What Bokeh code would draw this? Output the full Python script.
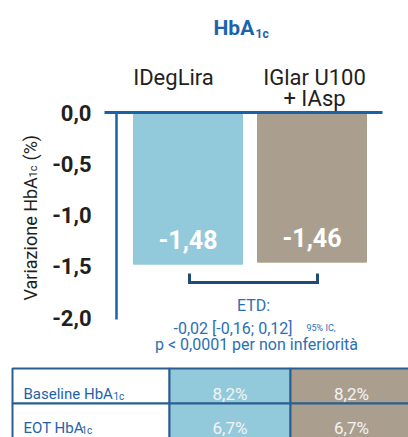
import math
from bokeh.plotting import figure
from bokeh.models import Range1d, FixedTicker, Label, CustomJSTickFormatter, LinearAxis
from bokeh.core.properties import value
from bokeh.embed import file_html
from bokeh.resources import INLINE

# ---------------- data ----------------
categories = ["IDegLira", "IGlar U100\n+ IAsp"]
changes = [-1.48, -1.46]
bar_colors = ["#93cadb", "#aa9f8e"]
y_ticks = [0.0, -0.5, -1.0, -1.5, -2.0]
etd_main = "-0,02 [-0,16; 0,12]"
etd_ci = "95% IC,"
etd_p = "p < 0,0001 per non inferiorità"
row_labels = ["Baseline HbA", "EOT HbA"]
baseline_vals = ["8,2%", "8,2%"]
eot_vals = ["6,7%", "6,7%"]

FONT = "Roboto"
DARK = "#231f20"
BLUE = "#1b63ad"
AXIS_BLUE = "#1763a6"
NAVY = "#1e4b78"
TXT_BLUE = "#2a6fb5"

# ---------------- geometry helpers (image pixels -> data) ----------------
W = 408
H = 437
PX_X = 124.0
PX_Y = 102.5
X0 = 1 - 187.5 / PX_X  # data x at image x = 0


def dx(img_x):
    return X0 + img_x / PX_X


def dy(img_y):
    return (112 - img_y) / PX_Y


p = figure(width=W, height=H,
           x_range=Range1d(dx(0), dx(W)),
           y_range=Range1d(dy(H), dy(0)),
           output_backend="svg", toolbar_location=None,
           x_axis_location=None, y_axis_location=None,
           min_border_left=0, min_border_right=0,
           min_border_top=0, min_border_bottom=0)
p.outline_line_color = None
p.grid.visible = False
p.background_fill_color = "white"
p.border_fill_color = "white"

ya = LinearAxis(fixed_location=dx(104))
ya.ticker = FixedTicker(ticks=y_ticks)
ya.formatter = CustomJSTickFormatter(code="return tick.toFixed(1).replace('.', ',');")
ya.axis_line_color = None
ya.major_tick_line_color = None
ya.minor_tick_line_color = None
ya.major_label_standoff = 7
ya.major_label_text_font = FONT
ya.major_label_text_font_style = "bold"
ya.major_label_text_font_size = "22px"
ya.major_label_text_color = DARK
p.add_layout(ya, "left")

xs = [i + 1 for i in range(len(changes))]
p.vbar(x=xs, width=109 / PX_X, top=0, bottom=changes, color=bar_colors)

# axis lines
p.segment(x0=[dx(116)], y0=[0], x1=[dx(116)], y1=[dy(319)],
          line_color=AXIS_BLUE, line_width=2.5)
p.segment(x0=[dx(104)], y0=[0], x1=[dx(382)], y1=[0],
          line_color=AXIS_BLUE, line_width=3)

# bar value labels
p.text(x=xs, y=[v + 0.24 for v in changes],
       text=[f"{v:.2f}".replace(".", ",") for v in changes],
       text_align="center", text_baseline="alphabetic",
       text_font=value(FONT), text_font_style="bold",
       text_font_size="25px", text_color="white")

# category labels
cat_dx = [-14.5 / PX_X, 2.5 / PX_X]
for i, cat in enumerate(categories):
    for j, line in enumerate(cat.split("\n")):
        p.text(x=[xs[i] + cat_dx[i]], y=[dy(77 + 21 * j)], text=[line],
               text_align="center", text_baseline="alphabetic",
               text_font=value(FONT), text_font_size="22px", text_color=DARK)

# title
p.text(x=[dx(213)], y=[dy(27)], text=["HbA"], text_align="left",
       text_baseline="alphabetic", text_font=value(FONT), text_font_style="bold",
       text_font_size="21px", text_color=BLUE)
p.text(x=[dx(255)], y=[dy(33)], text=["1c"], text_align="left",
       text_baseline="alphabetic", text_font=value(FONT), text_font_style="bold",
       text_font_size="12px", text_color=BLUE)

# bracket
p.line(x=[xs[0] + 1.5 / PX_X, xs[0] + 1.5 / PX_X, xs[1] + 5.5 / PX_X, xs[1] + 5.5 / PX_X],
       y=[dy(273), dy(282), dy(282), dy(273)],
       line_color=NAVY, line_width=3, line_join="miter")

# ETD texts
p.text(x=[dx(253)], y=[dy(305)], text=["ETD:"], text_align="center",
       text_baseline="alphabetic", text_font=value(FONT), text_font_size="16px",
       text_color=TXT_BLUE)
p.text(x=[dx(173)], y=[dy(328)], text=[etd_main], text_align="left",
       text_baseline="alphabetic", text_font=value(FONT), text_font_size="16px",
       text_color=TXT_BLUE)
p.text(x=[dx(306)], y=[dy(327)], text=[etd_ci], text_align="left",
       text_baseline="alphabetic", text_font=value(FONT), text_font_size="9px",
       text_color=TXT_BLUE)
p.text(x=[dx(256)], y=[dy(344)], text=[etd_p], text_align="center",
       text_baseline="alphabetic", text_font=value(FONT), text_font_size="16px",
       text_color=TXT_BLUE)

# y-axis title (rotated, with subscript)
for txt, ix, iy, fs in [("Variazione HbA", 30, 300, "18px"),
                        ("1c", 33, 177, "11px"),
                        ("(%)", 30, 160, "18px")]:
    p.add_layout(Label(x=dx(ix), y=dy(iy), text=txt, angle=math.pi / 2,
                       text_align="left", text_baseline="alphabetic",
                       text_font=FONT, text_font_size=fs, text_color=DARK))

# ---------------- table ----------------
col_edges = [12, 169, 290, 412]
row_edges = [368, 403, 438]
col_fills = ["white", bar_colors[0], bar_colors[1]]
values = [baseline_vals, eot_vals]

lefts, rights, tops, bottoms, fills = [], [], [], [], []
for r in range(2):
    for c in range(3):
        lefts.append(dx(col_edges[c])); rights.append(dx(col_edges[c + 1]))
        tops.append(dy(row_edges[r])); bottoms.append(dy(row_edges[r + 1]))
        fills.append(col_fills[c])
p.quad(left=lefts, right=rights, top=tops, bottom=bottoms, fill_color=fills,
       line_color="#2b5e90", line_width=2)

base_y = [393, 427]
sub_x = [113, 81]
p.text(x=[dx(23)] * 2, y=[dy(b) for b in base_y], text=row_labels, text_align="left",
       text_baseline="alphabetic", text_font=value(FONT), text_font_size="15px",
       text_color="#1e63aa")
p.text(x=[dx(s) for s in sub_x], y=[dy(b + 3) for b in base_y], text=["1c", "1c"],
       text_align="left", text_baseline="alphabetic", text_font=value(FONT),
       text_font_size="10px", text_color="#1e63aa")
for c in range(2):
    cx = dx((col_edges[c + 1] + col_edges[c + 2]) / 2)
    p.text(x=[cx, cx], y=[dy(b) for b in base_y], text=[values[0][c], values[1][c]],
           text_align="center", text_baseline="alphabetic",
           text_font=value(FONT), text_font_size="17px", text_color="#f4f4f4")

open("out.html", "w").write(file_html(p, INLINE))
